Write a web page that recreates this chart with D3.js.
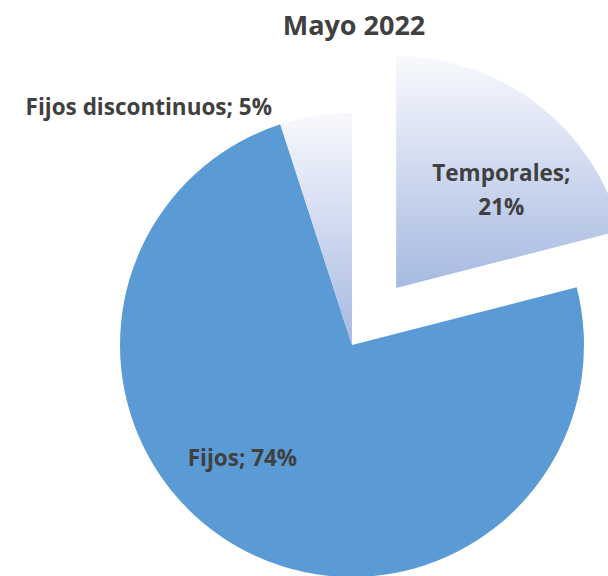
<!DOCTYPE html>
<html>
<head>
<meta charset="utf-8">
<script src="https://cdn.jsdelivr.net/npm/d3@7"></script>
<style>
  body { margin: 0; background: #fff; }
  text { font-family: "Open Sans", Lato, sans-serif; font-weight: bold; fill: #404040; }
</style>
</head>
<body>
<svg width="608" height="576"></svg>
<script>
var title = "Mayo 2022";
var categories = ["Temporales", "Fijos", "Fijos discontinuos"];
var values = [21, 74, 5];

var svg = d3.select("svg"),
    width = +svg.attr("width"),
    height = +svg.attr("height");

var cx = 352, cy = 345, radius = 232, explode = 72;

var defs = svg.append("defs");
var grad = defs.append("linearGradient")
    .attr("id", "lightGrad")
    .attr("x1", 0).attr("y1", 0).attr("x2", 0).attr("y2", 1);
grad.append("stop").attr("offset", "0%").attr("stop-color", "#f8f9fd");
grad.append("stop").attr("offset", "100%").attr("stop-color", "#a6b9e1");

var fill = d3.scaleOrdinal()
    .domain(categories)
    .range(["url(#lightGrad)", "#5b9bd5", "url(#lightGrad)"]);

var data = categories.map(function (c, i) { return { name: c, value: values[i] }; });

var pie = d3.pie()
    .sort(null)
    .value(function (d) { return d.value; });

var arc = d3.arc().innerRadius(0).outerRadius(radius);

var arcs = pie(data);

function offset(d) {
    if (d.data.name !== "Temporales") return [0, 0];
    var a = (d.startAngle + d.endAngle) / 2;
    return [Math.sin(a) * explode, -Math.cos(a) * explode];
}

var g = svg.append("g")
    .attr("transform", "translate(" + cx + "," + cy + ")");

g.selectAll("path")
    .data(arcs)
    .enter().append("path")
    .attr("transform", function (d) { var o = offset(d); return "translate(" + o[0] + "," + o[1] + ")"; })
    .attr("d", arc)
    .attr("fill", function (d) { return fill(d.data.name); });

// label placement (polar, relative to the slice's own center)
var labelPos = {
    "Temporales": { angle: 47, r: 0.62, anchor: "middle" },
    "Fijos": { angle: 224, r: 0.68, anchor: "middle" },
    "Fijos discontinuos": { angle: 341.4, r: 1.082, anchor: "end" }
};

arcs.forEach(function (d) {
    var p = labelPos[d.data.name], o = offset(d),
        a = p.angle * Math.PI / 180,
        x = o[0] + Math.sin(a) * radius * p.r,
        y = o[1] - Math.cos(a) * radius * p.r;
    var t = g.append("text")
        .attr("text-anchor", p.anchor)
        .attr("font-size", "22.5px");
    if (d.data.name === "Temporales") {
        t.append("tspan").attr("x", x).attr("y", y - 9).text(d.data.name + ";");
        t.append("tspan").attr("x", x).attr("y", y + 25).text(d.data.value + "%");
    } else {
        t.attr("x", x).attr("y", y + 8).text(d.data.name + "; " + d.data.value + "%");
    }
});

svg.append("text")
    .attr("x", 354)
    .attr("y", 35)
    .attr("text-anchor", "middle")
    .attr("font-size", "27px")
    .text(title);
</script>
</body>
</html>
